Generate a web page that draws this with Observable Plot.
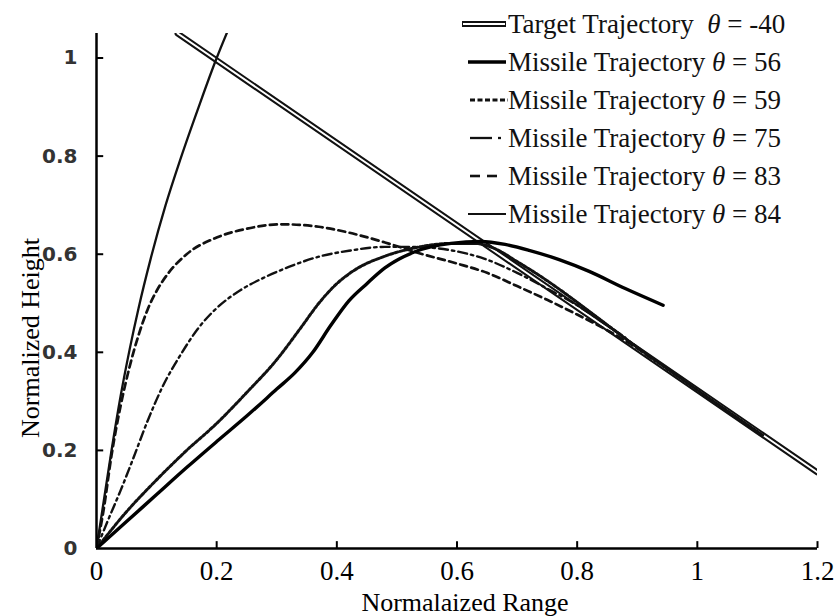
<!DOCTYPE html>
<html>
<head>
<meta charset="utf-8">
<script src="https://cdn.jsdelivr.net/npm/d3@7"></script>
<script src="https://cdn.jsdelivr.net/npm/@observablehq/plot@0.6"></script>
<style>
  html, body { margin: 0; padding: 0; background: #fff; }
  #wrap { position: relative; width: 840px; height: 616px; }
  #legend { position: absolute; left: 462px; top: 5px; font-family: "Liberation Serif", serif; font-size: 27px; color: #111; }
  #legend .row { height: 38px; display: flex; align-items: center; white-space: pre; }
  #legend svg { width: 46px; height: 20px; flex: none; }
  #legend i { font-style: italic; }
</style>
</head>
<body>
<div id="wrap"><div id="legend"></div></div>
<script>
// ---- data ----
const xTicks = [0, 0.2, 0.4, 0.6, 0.8, 1, 1.2];
const yTicks = [0, 0.2, 0.4, 0.6, 0.8, 1];

const targetX = [0.135, 1.2];
const targetY = [1.05, 0.155];

const m56X = [0, 0.05, 0.1, 0.15, 0.2, 0.25, 0.3, 0.33, 0.36, 0.39, 0.42, 0.45, 0.48, 0.53, 0.59, 0.64, 0.68, 0.72, 0.77, 0.82, 0.88, 0.943];
const m56Y = [0, 0.055, 0.11, 0.165, 0.218, 0.27, 0.325, 0.358, 0.4, 0.455, 0.505, 0.54, 0.572, 0.605, 0.622, 0.626, 0.62, 0.608, 0.589, 0.565, 0.53, 0.496];

const m59X = [0, 0.05, 0.1, 0.15, 0.2, 0.25, 0.3, 0.34, 0.37, 0.4, 0.43, 0.48, 0.53, 0.59, 0.63, 0.66, 0.7, 0.75, 0.8, 0.85, 0.9, 1.0, 1.11];
const m59Y = [0, 0.075, 0.14, 0.2, 0.255, 0.318, 0.385, 0.45, 0.5, 0.54, 0.568, 0.596, 0.613, 0.622, 0.622, 0.613, 0.585, 0.546, 0.502, 0.456, 0.41, 0.323, 0.23];

const m75X = [0, 0.02, 0.04, 0.06, 0.085, 0.11, 0.14, 0.17, 0.2, 0.24, 0.28, 0.32, 0.37, 0.42, 0.48, 0.53, 0.59, 0.645, 0.7, 0.75, 0.8, 0.85, 0.88];
const m75Y = [0, 0.06, 0.118, 0.18, 0.26, 0.33, 0.395, 0.45, 0.49, 0.527, 0.553, 0.574, 0.595, 0.607, 0.615, 0.615, 0.608, 0.591, 0.562, 0.53, 0.496, 0.455, 0.43];

const m83X = [0, 0.012, 0.025, 0.04, 0.055, 0.07, 0.085, 0.1, 0.12, 0.15, 0.2, 0.25, 0.31, 0.37, 0.42, 0.48, 0.54, 0.6, 0.65, 0.7, 0.75, 0.8, 0.85, 0.9, 0.93];
const m83Y = [0, 0.08, 0.19, 0.29, 0.37, 0.435, 0.487, 0.525, 0.562, 0.6, 0.634, 0.652, 0.661, 0.656, 0.644, 0.624, 0.601, 0.581, 0.562, 0.535, 0.507, 0.477, 0.445, 0.408, 0.382];

const m84X = [0, 0.01, 0.025, 0.04, 0.055, 0.07, 0.09, 0.115, 0.14, 0.17, 0.2, 0.22];
const m84Y = [0, 0.08, 0.2, 0.31, 0.405, 0.49, 0.59, 0.7, 0.795, 0.9, 1.0, 1.06];

const legendLabels = [
  ["Target Trajectory  ", "= -40"],
  ["Missile Trajectory ", "= 56"],
  ["Missile Trajectory ", "= 59"],
  ["Missile Trajectory ", "= 75"],
  ["Missile Trajectory ", "= 83"],
  ["Missile Trajectory ", "= 84"]
];
const xLabel = "Normalaized Range";
const yLabel = "Normalized Height";

// ---- build ----
const rows = (X, Y) => X.map((x, i) => ({x, y: Y[i]}));
const target = rows(targetX, targetY);
const m56 = rows(m56X, m56Y);
const m59 = rows(m59X, m59Y);
const m75 = rows(m75X, m75Y);
const m83 = rows(m83X, m83Y);
const m84 = rows(m84X, m84Y);

const curve = "monotone-x";
const serif = "Liberation Serif";

const chart = Plot.plot({
  width: 840,
  height: 616,
  marginLeft: 96,
  marginRight: 23,
  marginTop: 33,
  marginBottom: 68,
  style: {background: "#fff", color: "#000", overflow: "visible"},
  x: {domain: [0, 1.2]},
  y: {domain: [0, 1.05]},
  marks: [
    // target trajectory: double line
    Plot.line(target, {x: "x", y: "y", stroke: "#111", strokeWidth: 6, clip: true}),
    Plot.line(target, {x: "x", y: "y", stroke: "#fff", strokeWidth: 2, clip: true}),
    // missiles
    Plot.line(m84, {x: "x", y: "y", curve, stroke: "#111", strokeWidth: 2.3, clip: true}),
    Plot.line(m83, {x: "x", y: "y", curve, stroke: "#111", strokeWidth: 2.7, strokeDasharray: "7,4.5", clip: true}),
    Plot.line(m75, {x: "x", y: "y", curve, stroke: "#111", strokeWidth: 2.4, strokeDasharray: "9,4,2.5,4", clip: true}),
    Plot.line(m59, {x: "x", y: "y", curve, stroke: "#111", strokeWidth: 3, strokeDasharray: "3,2", clip: true}),
    Plot.line(m56, {x: "x", y: "y", curve, stroke: "#000", strokeWidth: 3.4, clip: true}),
    // axes
    Plot.ruleY([0], {stroke: "#000", strokeWidth: 2.5}),
    Plot.ruleX([0], {stroke: "#000", strokeWidth: 2.5}),
    Plot.ruleX(xTicks.filter(d => d > 0), {y1: 0, y2: 0.014, stroke: "#000", strokeWidth: 2}),
    Plot.ruleY(yTicks.filter(d => d > 0), {x1: 0, x2: 0.012, stroke: "#000", strokeWidth: 2}),
    Plot.axisX({ticks: xTicks, tickSize: 0, tickPadding: 12, tickFormat: d => String(d), label: null,
      fontSize: 27, fontFamily: serif, fill: "#000"}),
    Plot.axisY({ticks: yTicks, tickSize: 0, tickPadding: 19, tickFormat: d => String(d), label: null,
      fontSize: 20, fontFamily: "DejaVu Sans", fontWeight: "bold", fill: "#333"}),
    Plot.text([xLabel], {text: d => d, frameAnchor: "bottom", dx: 8, dy: 54, lineAnchor: "middle",
      fontSize: 26, fontFamily: serif, fill: "#000"}),
    Plot.text([yLabel], {text: d => d, frameAnchor: "left", textAnchor: "middle", dx: -66, dy: 47, rotate: -90, lineAnchor: "middle",
      fontSize: 26, fontFamily: serif, fill: "#000", style: "letter-spacing: 1.8px"})
  ]
});
document.getElementById("wrap").prepend(chart);

// ---- legend ----
const samples = [
  `<line x1="0" y1="10" x2="44" y2="10" stroke="#111" stroke-width="6"/><line x1="1" y1="10" x2="43" y2="10" stroke="#fff" stroke-width="2"/>`,
  `<line x1="6" y1="10" x2="44" y2="10" stroke="#000" stroke-width="3.4"/>`,
  `<line x1="8" y1="10" x2="46" y2="10" stroke="#111" stroke-width="2.8" stroke-dasharray="5,2.5"/>`,
  `<line x1="8" y1="10" x2="30" y2="10" stroke="#111" stroke-width="2.3"/><line x1="36" y1="10" x2="39" y2="10" stroke="#111" stroke-width="2.3"/>`,
  `<line x1="8" y1="10" x2="18" y2="10" stroke="#111" stroke-width="2.6"/><line x1="25" y1="10" x2="35" y2="10" stroke="#111" stroke-width="2.6"/>`,
  `<line x1="6" y1="10" x2="44" y2="10" stroke="#111" stroke-width="2.2"/>`
];
const legend = document.getElementById("legend");
legendLabels.forEach((lab, i) => {
  const row = document.createElement("div");
  row.className = "row";
  row.innerHTML = `<svg viewBox="0 0 46 20">${samples[i]}</svg><span>${lab[0]}<i>θ</i> ${lab[1]}</span>`;
  legend.appendChild(row);
});
</script>
</body>
</html>
